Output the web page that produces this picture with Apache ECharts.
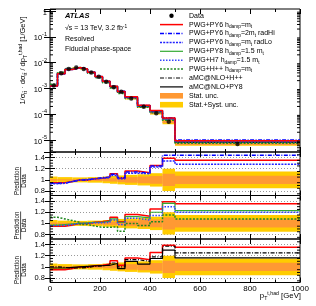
<!DOCTYPE html>
<html><head><meta charset="utf-8">
<script src="https://cdn.jsdelivr.net/npm/echarts@6/dist/echarts.min.js"></script>
<style>html,body{margin:0;padding:0;background:#fff}#c{width:316px;height:306px}</style>
</head><body><div id="c"></div>
<script>
// ---------------- data ----------------
const binEdges = [0,30,60,90,120,150,180,210,240,270,300,350,400,450,500,1000];
const dataValues = [1.3e-3, 3.9e-3, 5.6e-3, 6.4e-3, 5.6e-3, 4.1e-3, 2.8e-3, 1.8e-3, 1.1e-3, 7.4e-4, 4.1e-4, 1.95e-4, 1.1e-4, 5.1e-5, 7.0e-6];
const statUnc = [0.015, 0.01, 0.01, 0.01, 0.012, 0.015, 0.02, 0.025, 0.03, 0.04, 0.05, 0.06, 0.07, 0.11, 0.075];
const totUnc  = [0.06, 0.05, 0.05, 0.045, 0.045, 0.05, 0.05, 0.06, 0.07, 0.08, 0.09, 0.10, 0.12, 0.20, 0.15];
const ratioPwgPy6   = [0.95, 0.95, 0.97, 1.00, 1.00, 1.02, 1.03, 1.05, 1.11, 1.03, 1.16, 1.13, 1.26, 1.39, 1.35];
const ratioRadHi    = [0.94, 0.94, 0.97, 1.00, 1.00, 1.02, 1.04, 1.05, 1.10, 1.04, 1.14, 1.12, 1.25, 1.44, 1.44];
const ratioRadLo    = [0.93, 0.94, 0.97, 1.00, 1.01, 1.02, 1.03, 1.04, 1.08, 1.02, 1.12, 1.11, 1.23, 1.34, 1.28];
const ratioPwgPy8   = [0.97, 0.98, 0.99, 1.00, 1.01, 1.02, 1.02, 1.04, 1.08, 1.02, 1.12, 1.10, 1.20, 1.36, 1.23];
const ratioPwgH7    = [0.96, 0.96, 0.98, 1.00, 1.00, 1.01, 1.01, 1.02, 1.06, 0.98, 1.09, 1.06, 1.14, 1.30, 1.20];
const ratioPwgHpp   = [1.11, 1.08, 1.05, 1.02, 0.98, 0.95, 0.93, 0.93, 0.94, 0.86, 1.00, 0.96, 1.03, 1.15, 1.08];
const ratioAmcHpp   = [1.00, 0.99, 0.98, 0.98, 0.99, 1.01, 1.02, 1.03, 1.07, 1.00, 1.13, 1.10, 1.18, 1.37, 1.25];
const ratioAmcPy8   = [0.98, 0.98, 0.99, 1.00, 1.01, 1.02, 1.02, 1.03, 1.06, 0.97, 1.10, 1.05, 1.15, 1.30, 1.16];
const ratioTicks = [0.8, 1.0, 1.2, 1.4];
const ratioMinorTicks = [0.75, 0.85, 0.9, 0.95, 1.05, 1.1, 1.15, 1.25, 1.3, 1.35, 1.45];

// ---------------- styles ----------------
const FONT = '"Liberation Sans", Arial, Helvetica, sans-serif';
const STY = {
  py6:   {color:'#ff0000', width:1.5, type:'solid'},
  radHi: {color:'#0000ff', width:1.5, type:[4,1.5,1,1.5]},
  radLo: {color:'#2222ff', width:1.5, type:[2,1.2]},
  py8:   {color:'#33aa33', width:1.2, type:'solid'},
  h7:    {color:'#3344ff', width:1.5, type:[1.5,1.5]},
  hpp:   {color:'#228822', width:1.5, type:[2,1.5]},
  amcHpp:{color:'#000000', width:1.2, type:[4,1.5,1,1.5]},
  amcPy8:{color:'#000000', width:1.2, type:'solid'}
};
const C_STAT = '#ff9933', C_SYST = '#ffcc00';

const YMIN = 3.43e-6, YMAX = 1.195, RMIN = 0.72, RMAX = 1.5;
const grids = [
  {left:50, top:9, width:250, height:143},
  {left:50, top:152, width:250, height:43.5},
  {left:50, top:195.5, width:250, height:43.5},
  {left:50, top:239, width:250, height:43.5}
].map(g => Object.assign(g, {show:true, borderColor:'#000', borderWidth:1, backgroundColor:'transparent'}));

function xAx(g, pos, labels){
  return {type:'value', gridIndex:g, position:pos, min:0, max:1000, interval:200,
    axisLine:{show:false},
    axisTick:{show:true, inside:true, length:5, lineStyle:{color:'#000', width:1}},
    minorTick:{show:true, splitNumber:2, length:3, lineStyle:{color:'#000', width:1}},
    splitLine:{show:false},
    axisLabel:{show:labels, margin:2, fontSize:8, color:'#000', fontFamily:FONT, formatter:v => String(v)}};
}
const xAxes = [];
for (let g=0; g<4; g++){ xAxes.push(xAx(g,'bottom', g===3)); xAxes.push(xAx(g,'top', false)); }

const supRich = {
  b:{fontSize:7.5, fontFamily:FONT, color:'#000', verticalAlign:'bottom', lineHeight:11},
  s:{fontSize:5.5, fontFamily:FONT, color:'#000', verticalAlign:'top'}
};
function logLabel(v){
  const e = Math.log10(v), r = Math.round(e);
  if (Math.abs(e-r) > 1e-6) return '';
  if (r === 0) return '{b|1}';
  return '{b|10}{s|' + r + '}';
}
const yAxes = [];
['left','right'].forEach(pos => yAxes.push({type:'log', logBase:10, gridIndex:0, position:pos, min:YMIN, max:YMAX,
  axisLine:{show:false}, splitLine:{show:false}, minorTick:{show:false},
  axisTick:{show:true, inside:true, length:6, lineStyle:{color:'#000'}},
  axisLabel:{show:pos==='left', margin:3, formatter:logLabel, rich:supRich}}));
for (let g=1; g<4; g++){
  ['left','right'].forEach(pos => yAxes.push({type:'value', gridIndex:g, position:pos, min:RMIN, max:RMAX,
    axisLine:{show:false},
    axisTick:{show:true, inside:true, length:5, customValues:ratioTicks, lineStyle:{color:'#000'}},
    axisLabel:{show:pos==='left', customValues:ratioTicks, margin:5, fontSize:7.5, color:'#000', fontFamily:FONT,
      formatter:v => String(Math.round(v*10)/10)},
    splitLine:{show:pos==='left', lineStyle:{color:'#999', type:[1,2], width:1}}}));
}

// ---------------- helpers ----------------
function stepData(vals){
  const d = vals.map((v,i) => [binEdges[i], v]);
  d.push([binEdges[binEdges.length-1], vals[vals.length-1]]);
  return d;
}
function lineSeries(g, vals, st, z){
  return {type:'line', xAxisIndex:2*g, yAxisIndex:2*g, data:stepData(vals), step:'end', symbol:'none',
    silent:true, animation:false, z:z||3, lineStyle:{color:st.color, width:st.width, type:st.type}};
}
function bandRender(color){
  return function(params, api){
    const p0 = api.coord([api.value(0), api.value(3)]);
    const p1 = api.coord([api.value(1), api.value(2)]);
    const cs = params.coordSys;
    const r = echarts.graphic.clipRectByRect({x:p0[0], y:p0[1], width:p1[0]-p0[0], height:p1[1]-p0[1]},
      {x:cs.x, y:cs.y, width:cs.width, height:cs.height});
    return r && {type:'rect', shape:r, style:{fill:color}};
  };
}
function bandSeries(g, unc, color, main){
  const data = unc.map((u,i) => {
    const c = main ? dataValues[i] : 1;
    return [binEdges[i], binEdges[i+1], c*(1-u), c*(1+u)];
  });
  return {type:'custom', xAxisIndex:2*g, yAxisIndex:2*g, data:data, renderItem:bandRender(color),
    encode:{x:[0,1], y:[2,3]}, silent:true, animation:false, z:1};
}
function minorTickSeries(g, vals){
  return {type:'custom', xAxisIndex:2*g, yAxisIndex:2*g, data:vals.map(v => [0, v]), silent:true, animation:false, z:5,
    encode:{x:0, y:1},
    renderItem:function(params, api){
      const y = api.coord([0, api.value(1)])[1];
      const cs = params.coordSys;
      return {type:'group', children:[
        {type:'line', shape:{x1:cs.x, y1:y, x2:cs.x+3, y2:y}, style:{stroke:'#000', lineWidth:1}},
        {type:'line', shape:{x1:cs.x+cs.width-3, y1:y, x2:cs.x+cs.width, y2:y}, style:{stroke:'#000', lineWidth:1}}
      ]};
    }};
}
const logMinor = [];
for (let d=-6; d<=0; d++) for (let m=2; m<=9; m++){ const v = m*Math.pow(10,d); if (v > YMIN && v < YMAX) logMinor.push(v); }

const mul = r => dataValues.map((v,i) => v*r[i]);

// ---------------- series ----------------
const series = [
  bandSeries(0, totUnc, C_SYST, true), bandSeries(0, statUnc, C_STAT, true),
  lineSeries(0, mul(ratioAmcPy8), STY.amcPy8), lineSeries(0, mul(ratioAmcHpp), STY.amcHpp),
  lineSeries(0, mul(ratioPwgHpp), STY.hpp), lineSeries(0, mul(ratioPwgH7), STY.h7),
  lineSeries(0, mul(ratioPwgPy8), STY.py8), lineSeries(0, mul(ratioRadLo), STY.radLo),
  lineSeries(0, mul(ratioRadHi), STY.radHi), lineSeries(0, mul(ratioPwgPy6), STY.py6, 4),
  {type:'scatter', xAxisIndex:0, yAxisIndex:0, symbol:'circle', symbolSize:4.5, z:6, silent:true, animation:false,
   itemStyle:{color:'#000'}, data:dataValues.map((v,i) => [(binEdges[i]+binEdges[i+1])/2, v])},
  minorTickSeries(0, logMinor),
  bandSeries(1, totUnc, C_SYST, false), bandSeries(1, statUnc, C_STAT, false),
  lineSeries(1, ratioPwgPy6, STY.py6), lineSeries(1, ratioRadHi, STY.radHi), lineSeries(1, ratioRadLo, STY.radLo),
  minorTickSeries(1, ratioMinorTicks),
  bandSeries(2, totUnc, C_SYST, false), bandSeries(2, statUnc, C_STAT, false),
  lineSeries(2, ratioPwgPy6, STY.py6), lineSeries(2, ratioPwgPy8, STY.py8), lineSeries(2, ratioPwgH7, STY.h7),
  lineSeries(2, ratioPwgHpp, STY.hpp),
  minorTickSeries(2, ratioMinorTicks),
  bandSeries(3, totUnc, C_SYST, false), bandSeries(3, statUnc, C_STAT, false),
  lineSeries(3, ratioPwgPy6, STY.py6), lineSeries(3, ratioAmcHpp, STY.amcHpp), lineSeries(3, ratioAmcPy8, STY.amcPy8),
  minorTickSeries(3, ratioMinorTicks)
];

// ---------------- texts / legend ----------------
const RICH = {
  n:{fontSize:7, fontFamily:FONT, color:'#000', verticalAlign:'middle', lineHeight:9},
  sub:{fontSize:4.8, fontFamily:FONT, color:'#000', verticalAlign:'bottom'},
  sup:{fontSize:4.8, fontFamily:FONT, color:'#000', verticalAlign:'top'}
};
function txt(x, y, text, extra){
  return Object.assign({type:'text', x:x, y:y, silent:true, z:100,
    style:Object.assign({text:text, rich:RICH, fill:'#000', textAlign:'left', textVerticalAlign:'middle'}, extra||{})});
}
const legendEntries = [
  {k:'data', t:'{n|Data}'},
  {k:'py6', t:'{n|PWG+PY6 h}{sub|damp}{n|=m}{sub|t}'},
  {k:'radHi', t:'{n|PWG+PY6 h}{sub|damp}{n|=2m}{sub|t}{n| radHi}'},
  {k:'radLo', t:'{n|PWG+PY6 h}{sub|damp}{n|=m}{sub|t}{n| radLo}'},
  {k:'py8', t:'{n|PWG+PY8 h}{sub|damp}{n|=1.5 m}{sub|t}'},
  {k:'h7', t:'{n|PWG+H7 h}{sub|damp}{n|=1.5 m}{sub|t}'},
  {k:'hpp', t:'{n|PWG+H++ h}{sub|damp}{n|=m}{sub|t}'},
  {k:'amcHpp', t:'{n|aMC@NLO+H++}'},
  {k:'amcPy8', t:'{n|aMC@NLO+PY8}'},
  {k:'stat', t:'{n|Stat. unc.}'},
  {k:'syst', t:'{n|Stat.+Syst. unc.}'}
];
const graphics = [];
legendEntries.forEach((e,i) => {
  const y = 15.7 + i*8.9;
  if (e.k === 'data') graphics.push({type:'circle', shape:{cx:171.5, cy:y, r:2.2}, style:{fill:'#000'}, silent:true, z:100});
  else if (e.k === 'stat' || e.k === 'syst') graphics.push({type:'rect', shape:{x:160, y:y-2.8, width:23, height:5.6},
    style:{fill:e.k==='stat'?C_STAT:C_SYST}, silent:true, z:100});
  else { const st = STY[e.k]; graphics.push({type:'line', shape:{x1:160, y1:y, x2:183, y2:y},
    style:{stroke:st.color, lineWidth:st.width, lineDash:st.type==='solid'?null:st.type}, silent:true, z:100}); }
  graphics.push(txt(189, y, e.t));
});
graphics.push(txt(65, 15.7, 'ATLAS', {font:'italic bold 7.5px ' + FONT, rich:null}));
graphics.push(txt(65, 28.5, '{n|√s = 13 TeV, 3.2 fb}{sup|-1}'));
graphics.push(txt(65, 39, '{n|Resolved}'));
graphics.push(txt(65, 49, '{n|Fiducial phase-space}'));
graphics.push(txt(23, 60.5, '{n|1/σ}{sub|tt̄}{n| · dσ}{sub|tt̄}{n| / dp}{sub|T}{sup|t,had}{n| [1/GeV]}',
  {textAlign:'center', rich:{
    n:{fontSize:7.5, fontFamily:FONT, color:'#000', verticalAlign:'middle', lineHeight:10},
    sub:{fontSize:5, fontFamily:FONT, color:'#000', verticalAlign:'bottom'},
    sup:{fontSize:5, fontFamily:FONT, color:'#000', verticalAlign:'top'}}}));
graphics[graphics.length-1].rotation = Math.PI/2;
[181, 225.5, 270].forEach(cy => {
  graphics.push(Object.assign(txt(17, cy, 'Prediction', {textAlign:'center', font:'6.3px ' + FONT, rich:null}), {rotation:Math.PI/2}));
  graphics.push({type:'line', shape:{x1:20.6, y1:cy-14, x2:20.6, y2:cy+14}, style:{stroke:'#000', lineWidth:0.7}, silent:true, z:100});
  graphics.push(Object.assign(txt(24.5, cy, 'Data', {textAlign:'center', font:'6.3px ' + FONT, rich:null}), {rotation:Math.PI/2}));
});
graphics.push(txt(301, 296, '{n|p}{sub|T}{sup|t,had}{n| [GeV]}', {textAlign:'right', rich:{
  n:{fontSize:7.8, fontFamily:FONT, color:'#000', verticalAlign:'middle', lineHeight:10},
  sub:{fontSize:5.2, fontFamily:FONT, color:'#000', verticalAlign:'bottom'},
  sup:{fontSize:5.2, fontFamily:FONT, color:'#000', verticalAlign:'top'}}}));

const chart = echarts.init(document.getElementById('c'), null, {renderer:'canvas'});
chart.setOption({
  animation:false,
  backgroundColor:'#fff',
  textStyle:{fontFamily:FONT},
  grid:grids, xAxis:xAxes, yAxis:yAxes, series:series, graphic:graphics
});
</script></body></html>
